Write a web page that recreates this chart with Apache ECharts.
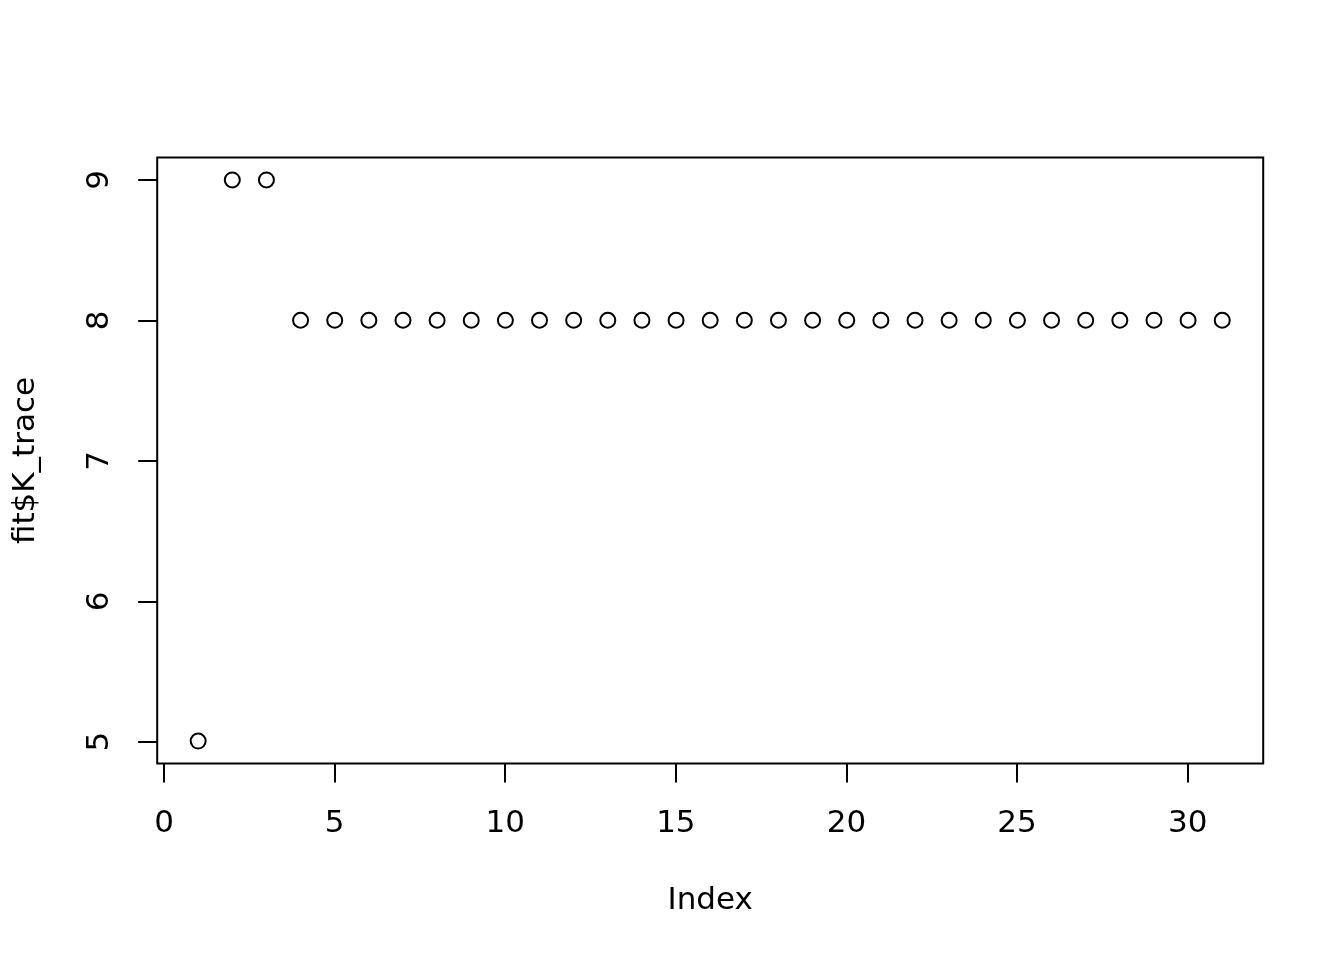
<!DOCTYPE html>
<html>
<head>
<meta charset="utf-8">
<script src="https://cdn.jsdelivr.net/npm/echarts@6/dist/echarts.min.js"></script>
<style>
  html, body { margin: 0; padding: 0; background: #fff; }
  #chart { width: 1344px; height: 960px; }
</style>
</head>
<body>
<div id="chart"></div>
<script>
  // fit$K_trace values, index 1..31
  var index = [];
  var kTrace = [5, 9, 9, 8, 8, 8, 8, 8, 8, 8, 8, 8, 8, 8, 8, 8, 8, 8, 8, 8, 8, 8, 8, 8, 8, 8, 8, 8, 8, 8, 8];
  kTrace.forEach(function (v, i) { index.push(i + 1); });
  var xTicks = [0, 5, 10, 15, 20, 25, 30];
  var yTicks = [5, 6, 7, 8, 9];

  var points = index.map(function (x, i) { return [x, kTrace[i]]; });
  var font = 'DejaVu Sans';
  var nameStyle = { fontFamily: font, fontSize: 31, color: '#000' };

  var chart = echarts.init(document.getElementById('chart'), null, { renderer: 'canvas' });
  chart.setOption({
    animation: false,
    backgroundColor: '#fff',
    grid: [
      // plot box, with R's 4% padding on each side
      { left: 157.2, right: 80.8, top: 157.5, bottom: 196.5, show: true, borderColor: '#000', borderWidth: 2, backgroundColor: 'transparent', outerBoundsMode: 'none' },
      // ticks only span the pretty range
      { left: 164, right: 156.3, top: 180, bottom: 218.3, outerBoundsMode: 'none' }
    ],
    xAxis: [
      {
        gridIndex: 0, type: 'value', min: -0.2, max: 32.2,
        name: 'Index', nameLocation: 'middle', nameGap: 122, nameTextStyle: nameStyle,
        axisLine: { show: false }, axisTick: { show: false }, axisLabel: { show: false }, splitLine: { show: false }
      },
      {
        gridIndex: 1, type: 'value', min: xTicks[0], max: xTicks[xTicks.length - 1], interval: 5,
        offset: 21.7,
        axisLine: { show: false, onZero: false },
        axisTick: { show: true, length: 19, lineStyle: { color: '#000', width: 2 } },
        axisLabel: { fontFamily: font, fontSize: 31, color: '#000', margin: 45 },
        splitLine: { show: false }
      }
    ],
    yAxis: [
      {
        gridIndex: 0, type: 'value', min: 4.84, max: 9.16,
        name: 'fit$K_trace', nameLocation: 'middle', nameGap: 116, nameRotate: 90, nameTextStyle: nameStyle,
        axisLine: { show: false }, axisTick: { show: false }, axisLabel: { show: false }, splitLine: { show: false }
      },
      {
        gridIndex: 1, type: 'value', min: yTicks[0], max: yTicks[yTicks.length - 1], interval: 1,
        offset: 6.8,
        axisLine: { show: false, onZero: false },
        axisTick: { show: true, length: 19, lineStyle: { color: '#000', width: 2 } },
        axisLabel: { fontFamily: font, fontSize: 31, color: '#000', rotate: 90, margin: 57, align: 'center', verticalAlign: 'middle' },
        splitLine: { show: false }
      }
    ],
    series: [{
      type: 'scatter',
      xAxisIndex: 0,
      yAxisIndex: 0,
      data: points,
      symbol: 'circle',
      symbolSize: 15,
      itemStyle: { color: 'transparent', borderColor: '#000', borderWidth: 2, opacity: 1 },
      clip: false
    }]
  });
</script>
</body>
</html>
